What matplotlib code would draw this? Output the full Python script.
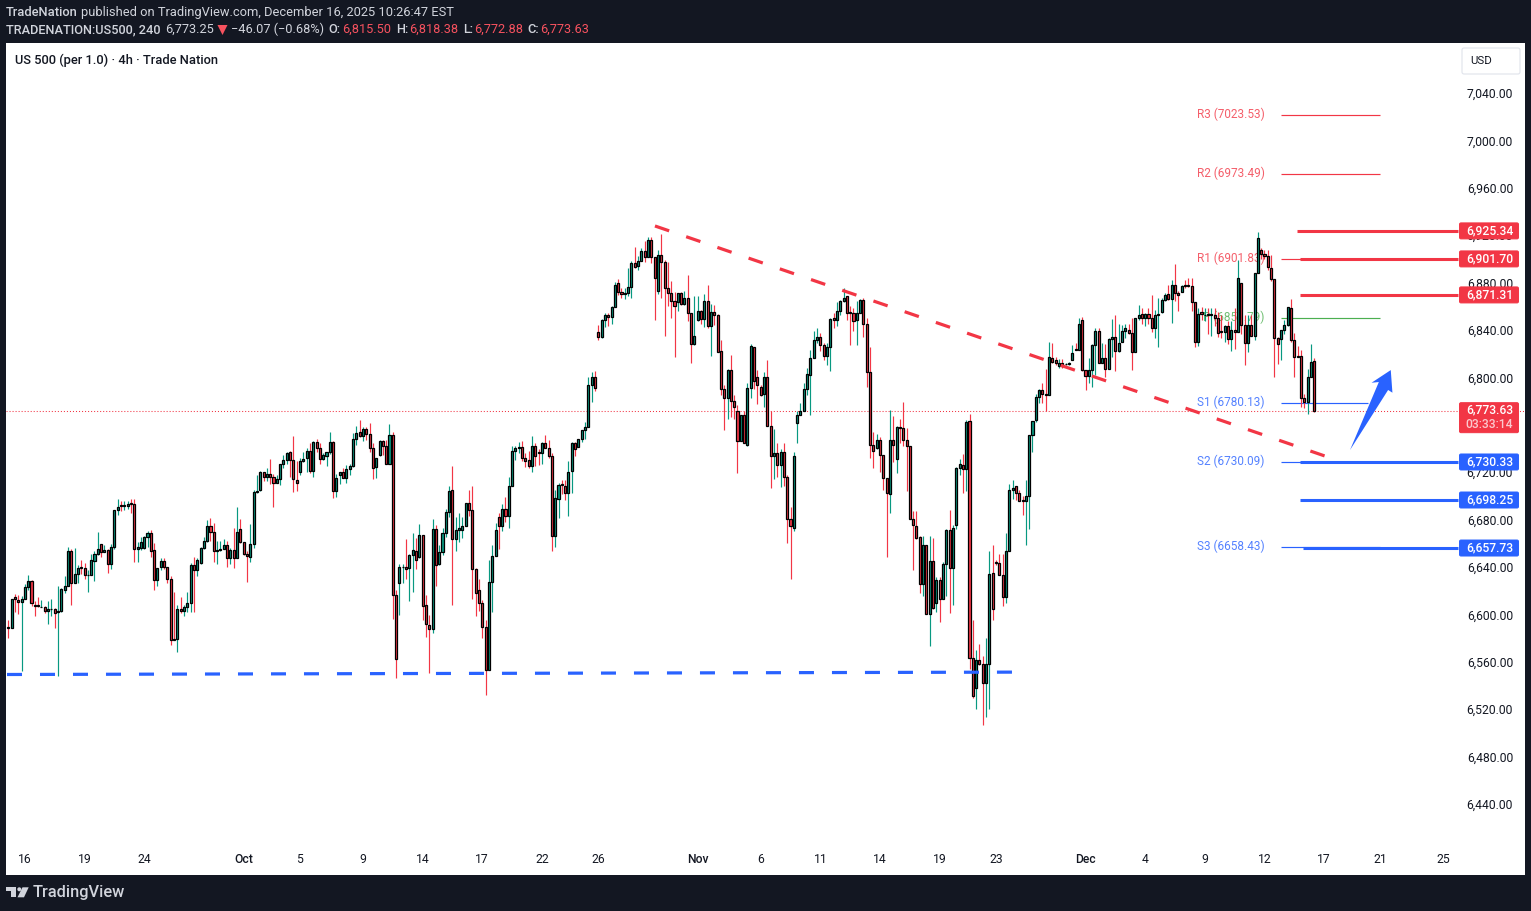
import matplotlib
matplotlib.use('Agg')
import numpy as np
import matplotlib.pyplot as plt
from matplotlib.patches import FancyBboxPatch, Polygon, Circle

plt.rcParams['font.family'] = ['Roboto', 'DejaVu Sans']

# ── OHLC, 4h candles ────────────────────────────────────────────────────────
opens = [
    6591,6590,6616,6614,6612,6615,6625,6630,6610,6610, 6608,6608,6605,6606,6606,6604,6605,6622,6626,6655,
    6628,6636,6642,6641,6635,6635,6647,6653,6661,6654, 6656,6644,6659,6690,6694,6693,6693,6696,6695,6657,
    6658,6658,6667,6670,6656,6631,6642,6647,6642,6632, 6581,6581,6606,6605,6608,6611,6643,6639,6645,6658,
    6664,6676,6671,6655,6656,6657,6660,6649,6656,6649, 6674,6663,6653,6650,6661,6705,6707,6722,6718,6720,
    6718,6713,6716,6729,6732,6739,6732,6715,6722,6731, 6734,6740,6723,6747,6742,6733,6735,6739,6747,6706,
    6719,6722,6717,6724,6727,6750,6756,6752,6758,6754, 6742,6726,6736,6748,6744,6729,6753,6618,6628,6642,
    6642,6641,6652,6655,6650,6669,6610,6593,6589,6674, 6644,6654,6670,6688,6707,6665,6673,6673,6676,6696,
    6690,6640,6622,6611,6591,6555,6629,6651,6684,6676, 6691,6685,6710,6740,6742,6743,6734,6732,6727,6744,
    6739,6738,6746,6742,6735,6668,6699,6712,6710,6704, 6723,6746,6743,6750,6757,6760,6795,6802,6840,6836,
    6850,6854,6853,6861,6881,6874,6872,6873,6878,6898, 6896,6900,6908,6903,6918,6903,6875,6905,6899,6877,
    6873,6866,6865,6873,6864,6869,6856,6830,6850,6858, 6851,6866,6845,6857,6854,6824,6792,6784,6808,6782,
    6773,6748,6770,6745,6793,6827,6802,6794,6788,6802, 6761,6735,6738,6728,6739,6718,6682,6675,6763,6770,
    6773,6792,6804,6818,6833,6836,6829,6820,6827,6852, 6850,6858,6866,6870,6857,6856,6850,6856,6867,6847,
    6806,6745,6742,6749,6736,6717,6703,6749,6733,6760, 6759,6749,6744,6682,6676,6667,6627,6660,6602,6647,
    6611,6631,6615,6644,6673,6641,6677,6725,6728,6724, 6765,6565,6540,6563,6560,6544,6560,6637,6646,6645,
    6635,6616,6655,6707,6710,6704,6698,6697,6702,6753, 6766,6785,6791,6788,6787,6818,6816,6811,6814,6813,
    6813,6816,6826,6825,6850,6808,6803,6808,6829,6841, 6814,6818,6809,6834,6836,6824,6832,6841,6842,6839,
    6823,6852,6855,6852,6855,6852,6843,6854,6857,6867, 6872,6868,6880,6873,6874,6880,6880,6879,6865,6832,
    6857,6854,6855,6854,6854,6852,6841,6840,6845,6834, 6842,6840,6881,6846,6831,6846,6837,6890,6909,6906,
    6904,6894,6885,6835,6834,6842,6846,6860,6833,6820, 6820,6784,6781,6802,6815.5,
]
highs = [
    6597,6615,6619,6618,6617,6627,6635,6631,6613,6616, 6614,6609,6613,6615,6607,6626,6624,6634,6659,6657,
    6658,6643,6648,6645,6639,6653,6655,6671,6661,6660, 6657,6661,6690,6699,6697,6697,6697,6699,6699,6663,
    6667,6668,6672,6673,6662,6641,6649,6649,6642,6634, 6621,6610,6616,6610,6621,6645,6650,6649,6659,6667,
    6681,6683,6679,6664,6664,6665,6664,6658,6675,6692, 6682,6663,6655,6678,6707,6719,6723,6722,6725,6733,
    6720,6719,6729,6736,6739,6740,6752,6731,6734,6739, 6742,6746,6748,6750,6746,6738,6739,6756,6748,6720,
    6722,6725,6728,6729,6755,6761,6766,6760,6760,6763, 6746,6734,6749,6749,6749,6762,6756,6622,6644,6644,
    6665,6653,6670,6666,6678,6669,6618,6601,6682,6677, 6660,6675,6691,6710,6727,6684,6687,6684,6696,6707,
    6710,6641,6632,6614,6597,6648,6660,6679,6687,6695, 6701,6718,6744,6744,6747,6748,6738,6740,6752,6746,
    6741,6747,6753,6749,6738,6707,6713,6715,6715,6731, 6747,6747,6750,6757,6764,6802,6806,6807,6846,6851,
    6856,6856,6862,6882,6885,6877,6877,6894,6900,6912, 6904,6911,6917,6920,6920,6903,6909,6923,6901,6899,
    6883,6874,6873,6874,6875,6888,6856,6870,6870,6859, 6872,6880,6864,6863,6855,6833,6795,6809,6821,6787,
    6778,6748,6773,6797,6830,6827,6808,6795,6806,6816, 6773,6758,6746,6741,6746,6719,6692,6739,6773,6780,
    6797,6810,6825,6841,6843,6839,6831,6831,6852,6856, 6865,6867,6877,6870,6862,6860,6866,6868,6869,6852,
    6827,6756,6754,6751,6736,6717,6774,6769,6761,6767, 6781,6759,6744,6689,6689,6668,6668,6660,6668,6666,
    6633,6633,6646,6674,6690,6677,6726,6733,6737,6766, 6771,6597,6572,6577,6567,6582,6655,6660,6648,6653,
    6653,6670,6712,6715,6710,6707,6702,6715,6753,6765, 6788,6792,6797,6809,6832,6831,6819,6817,6817,6814,
    6815,6829,6831,6852,6853,6808,6818,6830,6843,6843, 6831,6830,6835,6851,6854,6847,6846,6847,6847,6852,
    6852,6863,6860,6856,6860,6871,6859,6869,6869,6873, 6880,6884,6897,6875,6880,6884,6886,6886,6865,6860,
    6861,6860,6860,6860,6860,6857,6854,6846,6849,6849, 6860,6901,6881,6854,6854,6854,6890,6924,6911,6909,
    6909,6905,6885,6836,6842,6850,6861,6868,6839,6828, 6825,6788,6809,6830,6818.38,
]
lows = [
    6582,6590,6604,6602,6554,6615,6622,6609,6600,6608, 6608,6603,6594,6600,6590,6550,6604,6620,6626,6610,
    6628,6628,6636,6632,6621,6635,6630,6652,6650,6654, 6637,6640,6657,6686,6689,6690,6691,6687,6646,6646,
    6656,6657,6659,6650,6622,6626,6639,6640,6628,6576, 6580,6570,6603,6600,6604,6604,6604,6634,6644,6657,
    6663,6664,6646,6644,6655,6657,6642,6644,6641,6649, 6662,6652,6629,6646,6658,6704,6706,6714,6714,6712,
    6692,6713,6711,6725,6729,6718,6705,6706,6719,6730, 6722,6721,6718,6739,6729,6732,6727,6737,6700,6701,
    6712,6717,6713,6719,6726,6745,6751,6748,6749,6739, 6716,6717,6735,6736,6729,6729,6598,6548,6601,6628,
    6632,6613,6621,6640,6649,6597,6583,6552,6586,6626, 6643,6652,6667,6684,6610,6655,6663,6666,6676,6685,
    6615,6600,6605,6582,6534,6555,6604,6651,6657,6672, 6680,6675,6710,6732,6738,6731,6726,6725,6722,6727,
    6728,6729,6742,6734,6655,6659,6683,6703,6698,6685, 6704,6735,6743,6747,6750,6760,6781,6790,6833,6835,
    6844,6845,6847,6861,6871,6869,6868,6870,6869,6894, 6892,6900,6899,6903,6898,6850,6872,6869,6837,6862,
    6852,6819,6858,6863,6863,6849,6814,6829,6849,6847, 6844,6843,6820,6846,6823,6787,6757,6767,6768,6767,
    6721,6748,6746,6744,6784,6792,6779,6786,6777,6761, 6708,6716,6718,6709,6710,6662,6632,6672,6746,6770,
    6773,6787,6770,6818,6831,6824,6816,6812,6807,6843, 6845,6854,6865,6850,6829,6841,6829,6856,6836,6794,
    6734,6725,6741,6722,6707,6650,6687,6730,6721,6746, 6744,6706,6682,6639,6665,6620,6617,6602,6575,6606,
    6604,6595,6615,6617,6603,6610,6674,6719,6704,6706, 6556,6531,6522,6559,6508,6515,6522,6597,6643,6635,
    6609,6611,6655,6699,6698,6697,6686,6660,6674,6739, 6764,6780,6780,6773,6787,6814,6812,6810,6810,6812,
    6812,6816,6825,6825,6807,6791,6797,6794,6804,6814, 6814,6802,6809,6819,6807,6823,6832,6835,6838,6808,
    6823,6850,6847,6845,6847,6840,6835,6827,6856,6866, 6867,6848,6866,6858,6874,6877,6878,6858,6827,6828,
    6850,6849,6838,6837,6845,6836,6835,6832,6830,6824, 6826,6840,6838,6812,6823,6837,6833,6890,6902,6902,
    6892,6883,6802,6813,6816,6838,6845,6832,6802,6819, 6777,6776,6771,6802,6772.88,
]
closes = [
    6590,6615,6615,6612,6615,6625,6630,6611,6609,6609, 6608,6605,6606,6606,6603,6605,6623,6626,6655,6628,
    6636,6641,6641,6635,6635,6648,6653,6657,6654,6656, 6644,6659,6690,6692,6693,6694,6695,6695,6657,6659,
    6663,6667,6670,6655,6631,6641,6647,6642,6632,6580, 6580,6606,6605,6608,6611,6643,6639,6648,6658,6664,
    6676,6671,6655,6656,6657,6660,6649,6656,6649,6671, 6663,6653,6651,6661,6705,6706,6722,6718,6720,6718,
    6713,6716,6729,6732,6738,6732,6716,6713,6731,6733, 6740,6723,6747,6742,6733,6736,6739,6747,6706,6717,
    6722,6717,6724,6727,6750,6755,6752,6758,6754,6742, 6725,6734,6748,6744,6729,6753,6618,6564,6642,6642,
    6640,6652,6656,6648,6669,6609,6594,6589,6674,6643, 6654,6670,6688,6706,6665,6673,6675,6676,6696,6690,
    6640,6620,6611,6591,6555,6629,6651,6673,6676,6691, 6685,6710,6740,6742,6743,6734,6731,6727,6744,6735,
    6738,6746,6742,6735,6668,6700,6711,6711,6704,6722, 6746,6741,6750,6757,6760,6795,6802,6793,6836,6850,
    6854,6853,6861,6880,6874,6872,6873,6878,6898,6895, 6900,6908,6903,6918,6903,6886,6905,6899,6877,6873,
    6866,6862,6873,6864,6869,6856,6830,6837,6858,6851, 6866,6845,6857,6854,6823,6792,6784,6808,6782,6777,
    6748,6770,6746,6793,6828,6799,6795,6787,6802,6761, 6735,6738,6728,6739,6718,6682,6676,6735,6770,6773,
    6792,6805,6818,6833,6836,6829,6820,6827,6851,6850, 6858,6866,6869,6856,6856,6849,6856,6867,6847,6806,
    6745,6740,6749,6736,6717,6704,6749,6745,6760,6759, 6749,6744,6682,6677,6666,6627,6660,6602,6647,6607,
    6631,6615,6644,6673,6641,6675,6725,6729,6724,6764, 6565,6533,6563,6560,6544,6560,6636,6606,6645,6635,
    6616,6655,6707,6708,6704,6697,6697,6702,6753,6765, 6785,6791,6788,6787,6819,6815,6814,6814,6811,6813,
    6814,6822,6825,6847,6808,6803,6808,6829,6841,6814, 6818,6809,6834,6836,6824,6831,6841,6843,6839,6823,
    6852,6854,6852,6855,6852,6843,6854,6855,6867,6871, 6868,6880,6873,6871,6879,6879,6879,6865,6832,6855,
    6855,6854,6854,6855,6852,6839,6840,6845,6834,6842, 6840,6886,6846,6831,6846,6837,6890,6919,6906,6904,
    6895,6885,6835,6830,6842,6846,6861,6833,6819,6819, 6784,6781,6802,6815,6773.63,
]

# осі
date_pos    = [5, 23, 41, 71, 88, 107, 125, 143, 161, 178, 208, 227, 245, 263, 281, 298, 325, 343, 361, 379, 397, 414, 433]
date_labels = ['16', '19', '24', 'Oct', '5', '9', '14', '17', '22', '26', 'Nov', '6', '11', '14', '19', '23',
               'Dec', '4', '9', '12', '17', '21', '25']
price_ticks = [7040, 7000, 6960, 6920, 6880, 6840, 6800, 6720, 6680, 6640, 6600, 6560, 6520, 6480, 6440]

# pivot levels
pivot_names  = ['R3', 'R2', 'R1', 'P', 'S1', 'S2', 'S3']
pivot_values = [7023.53, 6973.49, 6901.83, 6851.79, 6780.13, 6730.09, 6658.43]
pivot_colors = ['#f23645', '#f23645', '#f23645', '#4caf50', '#2962ff', '#2962ff', '#2962ff']
pivot_end    = [413.8, 413.8, 413.8, 413.8, 410.2, 413.8, 413.8]

# horizontal levels drawn by hand
level_values = [6925.34, 6901.70, 6871.31, 6730.33, 6698.25, 6657.73]
level_colors = ['#f23645', '#f23645', '#f23645', '#2962ff', '#2962ff', '#2962ff']
level_start  = [388.8, 389.7, 389.7, 389.7, 389.7, 390.6]

# trend lines (bar index, price)
red_line_x  = [195.1, 397.2]
red_line_y  = [6929.5, 6735.4]
blue_line_x = [-0.4, 303.1]
blue_line_y = [6551, 6553]

arrow_x = [417.1, 411.3, 413.5, 404.8, 416.3, 417.6]
arrow_y = [6807.9, 6797.2, 6797.8, 6740.4, 6791.1, 6788.8]

last_price = 6773.63

C = dict(bg='#131722', up='#089981', down='#f23645', blue='#2962ff', text='#131722', head='#d1d4dc')
DASH = (0, (4.7, 5.63))

W, H = 1531, 911
X0, X1 = -0.70, 457.6
Y0, Y1 = 6381.8, 7083.9
AX_L, AX_R, AX_T, AX_B = 6, 1525, 43, 875

def price_px(p):
    return AX_T + (Y1 - p) / (Y1 - Y0) * (AX_B - AX_T)

fig = plt.figure(figsize=(W / 100, H / 100), dpi=100)
fig.patch.set_facecolor(C['bg'])

ax = fig.add_axes([AX_L / W, 1 - AX_B / H, (AX_R - AX_L) / W, (AX_B - AX_T) / H])
ax.set_facecolor('white')
ax.set_xlim(X0, X1)
ax.set_ylim(Y0, Y1)
ax.set_xticks([])
ax.set_yticks([])
for sp in ax.spines.values():
    sp.set_visible(False)

# overlay in pixels for the chrome around the chart
ov = fig.add_axes([0, 0, 1, 1], zorder=5)
ov.set_xlim(0, W)
ov.set_ylim(H, 0)
ov.axis('off')
ov.patch.set_alpha(0)

# ── Pivot points ─────────────────────────────────────────────────────────────
for name, val, col, end in zip(pivot_names, pivot_values, pivot_colors, pivot_end):
    ax.hlines(val, 384, end, color=col, linewidth=0.85, zorder=1)
    ax.text(379.1, val + 0.4, f'{name} ({val:.2f})', color=col, alpha=0.8, fontsize=8.5,
            ha='right', va='center', zorder=1)

# ── Candles ──────────────────────────────────────────────────────────────────
o, h, l, c = map(np.array, (opens, highs, lows, closes))
idx = np.arange(len(o))
up = c >= o
colors = np.where(up, C['up'], C['down'])

ax.vlines(idx, l, h, colors=colors, linewidth=0.85, zorder=2)
ax.bar(idx, np.abs(c - o), bottom=np.minimum(o, c), width=0.62, color=colors,
       edgecolor='black', linewidth=0.9, zorder=3)

# ── Drawings ─────────────────────────────────────────────────────────────────
ax.axhline(last_price, color=C['down'], linewidth=0.75, linestyle=(0, (1, 1.9)), zorder=1)

ax.plot(red_line_x, red_line_y, color=C['down'], linewidth=2.3, linestyle=DASH,
        dash_capstyle='butt', zorder=4)
ax.plot(blue_line_x, blue_line_y, color=C['blue'], linewidth=2.3, linestyle=DASH,
        dash_capstyle='butt', zorder=4)

for val, col, start in zip(level_values, level_colors, level_start):
    ax.hlines(val, start, 437.3, color=col, linewidth=2.2, zorder=4)

ax.add_patch(Polygon(np.column_stack([arrow_x, arrow_y]), closed=True, facecolor=C['blue'],
                     edgecolor='none', zorder=4))

# ── Price axis ───────────────────────────────────────────────────────────────
for p in price_ticks:
    ov.text(1513, price_px(p) - 0.5, f'{p:,.2f}', color=C['text'], fontsize=8.7, ha='right', va='center')

for val, col in zip(level_values, level_colors):
    y = price_px(val)
    ov.add_patch(FancyBboxPatch((1459.5, y - 8), 59, 16, boxstyle='round,pad=0,rounding_size=1.5',
                                facecolor=col, edgecolor=col, linewidth=0.7, zorder=3))
    ov.text(1489.5, y - 0.3, f'{val:,.2f}', color='white', fontsize=8.7, fontweight='medium',
            ha='center', va='center', zorder=4)

y = price_px(last_price)
ov.add_patch(FancyBboxPatch((1459.5, y - 8), 59, 30, boxstyle='round,pad=0,rounding_size=1.5',
                            facecolor=C['down'], edgecolor=C['down'], linewidth=0.7, zorder=3))
ov.text(1489.5, y - 0.3, f'{last_price:,.2f}', color='white', fontsize=8.7, fontweight='medium',
        ha='center', va='center', zorder=4)
ov.text(1489.5, y + 14, '03:33:14', color='#fbc9ce', fontsize=8.7, fontweight='medium',
        ha='center', va='center', zorder=4)

# USD box
ov.add_patch(FancyBboxPatch((1462, 48), 58, 26, boxstyle='round,pad=0,rounding_size=2',
                            facecolor='white', edgecolor='#e0e3eb', linewidth=0.8))
ov.text(1481, 61.5, 'USD', color=C['text'], fontsize=8.2, ha='center', va='center')

# ── Date axis ────────────────────────────────────────────────────────────────
for pos, lab in zip(date_pos, date_labels):
    px = AX_L + (pos - X0) / (X1 - X0) * (AX_R - AX_L)
    bold = lab in ('Oct', 'Nov', 'Dec')
    ov.text(px, 859.5, lab, color=C['text'], fontsize=8.7, ha='center', va='center',
            fontweight='medium' if bold else 'normal')

# ── Header ───────────────────────────────────────────────────────────────────
ov.text(6, 12.5, 'TradeNation', color=C['head'], fontsize=9.25, fontweight='medium', va='center')
ov.text(81, 12.5, 'published on TradingView.com, December 16, 2025 10:26:47 EST', color=C['head'],
        fontsize=9.25, va='center')

ov.text(6, 29.5, 'TRADENATION:US500, 240', color=C['head'], fontsize=9.2, fontweight='medium', va='center')
ov.text(165, 29.5, '6,773.25', color=C['head'], fontsize=9.2, va='center')
ov.add_patch(Polygon([[217.5, 25], [227.5, 25], [222.5, 35]], closed=True, facecolor='#f7525f', edgecolor='none'))
ov.text(231, 29.5, '−46.07 (−0.68%)', color=C['head'], fontsize=9.2, va='center')
for lab, lx, val, vx in [('O:', 328, '6,815.50', 342), ('H:', 396, '6,818.38', 409),
                         ('L:', 463, '6,772.88', 474), ('C:', 527, '6,773.63', 540)]:
    ov.text(lx, 29.5, lab, color=C['head'], fontsize=9.2, fontweight='medium', va='center')
    ov.text(vx, 29.5, val, color='#f7525f', fontsize=9.2, va='center')

ov.text(15, 60.5, 'US 500 (per 1.0) · 4h · Trade Nation', color=C['text'], fontsize=9.3, fontweight='medium', va='center')

# ── Logo ─────────────────────────────────────────────────────────────────────
logo = '#d1d4dc'
ov.add_patch(Polygon([[6, 887.3], [16, 887.3], [16, 897.3], [11, 897.3], [11, 890.7], [6, 890.7]],
                     closed=True, facecolor=logo, edgecolor='none'))
ov.add_patch(Circle((19.3, 889.3), 2, facecolor=logo, edgecolor='none'))
ov.add_patch(Polygon([[22.5, 887.3], [28.7, 887.3], [24, 897.3], [17.5, 897.3]],
                     closed=True, facecolor=logo, edgecolor='none'))
ov.text(33, 892.5, 'TradingView', color=logo, fontsize=11.8, fontweight='medium', va='center')

fig.savefig('out.png', dpi=100, facecolor=fig.get_facecolor())
